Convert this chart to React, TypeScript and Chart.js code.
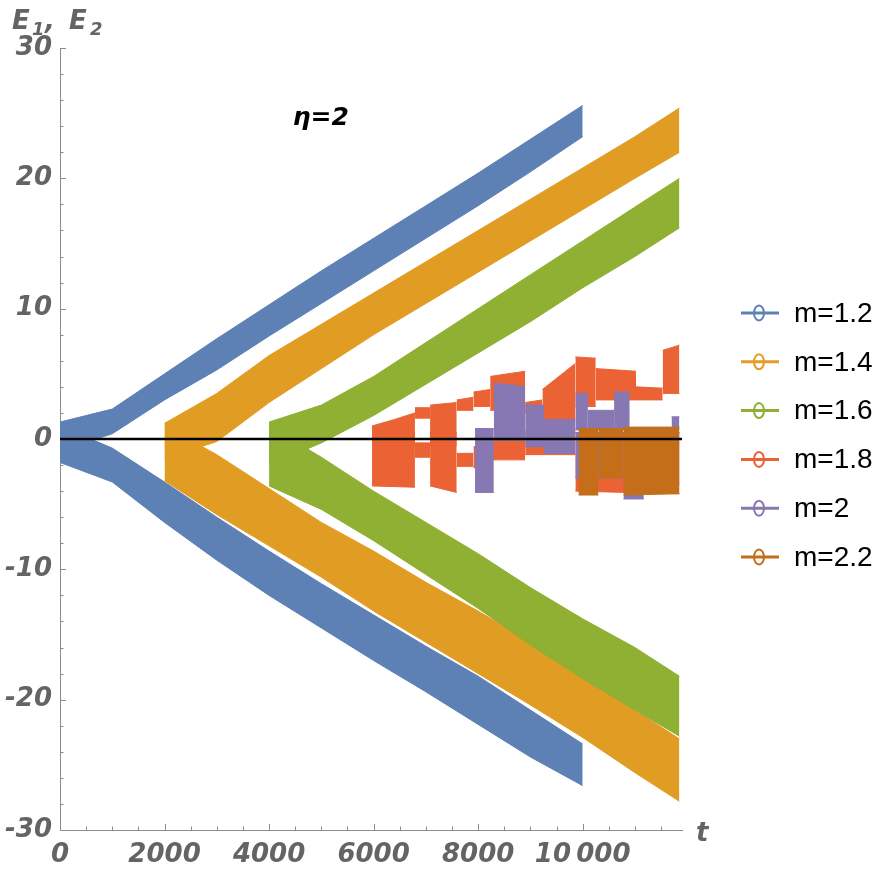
import { useEffect, useRef } from 'react';
import { Chart, registerables } from 'chart.js';

Chart.register(...registerables);

const seriesLabels = ['m=1.2', 'm=1.4', 'm=1.6', 'm=1.8', 'm=2', 'm=2.2'];
const seriesColors = ['#5E81B5', '#E19C24', '#8FB032', '#EB6235', '#8778B3', '#C56E1A'];

// m=1.2 : two arms growing out of t=0
const m12T = [0, 1000, 2000, 3000, 4000, 5000, 6000, 7000, 8000, 9000, 10000];
const m12UpHi = [1.3, 2.3, 5.0, 7.7, 10.3, 12.9, 15.4, 17.9, 20.4, 23.0, 25.6];
const m12UpLo = [-0.9, 0.4, 3.0, 5.3, 7.9, 10.4, 12.9, 15.4, 17.9, 20.5, 23.2];
const m12DnHi = [1.0, -0.7, -3.3, -6.0, -8.6, -11.1, -13.5, -15.9, -18.2, -20.8, -23.4];
const m12DnLo = [-1.8, -3.3, -6.4, -9.3, -12.0, -14.5, -17.0, -19.4, -21.9, -24.4, -26.6];

// m=1.4 : starts at t=2000
const m14T = [2000, 3000, 4000, 5000, 6000, 7000, 8000, 9000, 10000, 11000, 11850];
const m14UpHi = [1.2, 3.5, 6.4, 8.8, 11.2, 13.6, 16.0, 18.4, 20.8, 23.2, 25.4];
const m14UpLo = [-1.5, -0.2, 2.8, 5.4, 8.0, 10.4, 12.8, 15.2, 17.6, 20.0, 22.0];
const m14DnHi = [1.0, -1.2, -3.8, -6.4, -8.6, -11.0, -13.2, -15.6, -18.2, -20.8, -23.0];
const m14DnLo = [-3.2, -5.8, -8.2, -10.6, -13.2, -15.6, -18.0, -20.4, -22.9, -25.6, -27.8];

// m=1.6 : starts at t=4000
const m16T = [4000, 5000, 6000, 7000, 8000, 9000, 10000, 11000, 11850];
const m16UpHi = [1.3, 2.6, 4.8, 7.4, 10.0, 12.6, 15.2, 17.8, 20.0];
const m16UpLo = [-2.0, -0.3, 1.8, 4.2, 6.6, 9.0, 11.6, 14.0, 16.2];
const m16DnHi = [1.0, -1.4, -4.0, -6.4, -8.8, -11.4, -13.8, -16.0, -18.2];
const m16DnLo = [-3.6, -5.4, -7.8, -10.4, -13.0, -15.8, -18.4, -20.8, -22.8];

// m=1.8 : stepwise, upper and lower branch (repeated t = a jump)
const m18UpT = [5970, 6400, 6790, 6790, 7080, 7080, 7590, 7590, 7910, 7910, 8230, 8230, 8900, 8900, 9230, 9230, 9860, 9860, 10250, 10250, 11020, 11020, 11530, 11530, 11850];
const m18UpHi = [1.0, 1.5, 2.0, 2.4, 2.4, 2.6, 2.8, 3.0, 3.2, 3.6, 3.8, 4.8, 5.2, 2.8, 3.0, 3.8, 5.8, 6.3, 6.2, 5.4, 5.2, 4.0, 3.9, 6.8, 7.2];
const m18UpLo = [-0.5, -0.5, -0.5, 1.6, 1.6, -0.5, -0.5, 2.2, 2.2, 2.5, 2.5, 2.2, 2.2, 2.0, 2.0, 0.8, 0.8, 2.5, 2.5, 3.0, 3.0, 3.0, 3.0, 3.5, 3.5];
const m18DnT = [5970, 6790, 6790, 7080, 7080, 7590, 7590, 7910, 7910, 8230, 8230, 8900, 8900, 9860, 9860, 11850];
const m18DnHi = [0.5, 0.5, -0.3, -0.3, 0.5, 0.5, -1.1, -1.1, -0.6, -0.6, -0.1, -0.1, 0.6, 0.6, 0.5, 0.5];
const m18DnLo = [-3.6, -3.7, -1.4, -1.4, -3.6, -4.1, -2.1, -2.1, -2.2, -2.2, -1.6, -1.6, -1.2, -1.2, -4.0, -4.2];

// m=2
const m20UpT = [7940, 8300, 8300, 8900, 8900, 9260, 9260, 9860, 9860, 10100, 10100, 10600, 10600, 10900, 10900, 11700, 11700, 11850];
const m20UpHi = [0.8, 0.8, 4.3, 4.0, 2.6, 2.6, 1.5, 1.5, 3.5, 3.5, 2.2, 2.2, 3.6, 3.6, 0.9, 0.9, 1.7, 1.7];
const m20UpLo = [-4.1, -4.1, -0.1, -0.1, -0.6, -0.6, -1.1, -1.1, 0.7, 0.7, 0.7, 0.7, 0.7, 0.7, 0.4, 0.4, 0.7, 0.7];
const m20DnT = [9860, 10780, 10780, 11170, 11170, 11850];
const m20DnHi = [0.5, 0.5, 0.5, 0.5, 0.5, 0.5];
const m20DnLo = [-3.0, -3.0, -4.6, -4.6, -3.5, -3.5];

// m=2.2
const m22T = [9920, 10300, 10300, 10780, 10780, 11850];
const m22Hi = [0.8, 0.8, 0.8, 0.8, 0.9, 0.9];
const m22Lo = [-4.3, -4.3, -3.0, -3.0, -4.3, -4.2];

const zeroT = [0, 11900];
const zeroE = [0, 0];

const xTicks = [0, 2000, 4000, 6000, 8000, 10000];
const yTicks = [-30, -20, -10, 0, 10, 20, 30];
const xMinorStep = 500;
const yMinorStep = 2;

const bands = [
  { s: 0, t: m12T, hi: m12UpHi, lo: m12UpLo },
  { s: 0, t: m12T, hi: m12DnHi, lo: m12DnLo },
  { s: 1, t: m14T, hi: m14UpHi, lo: m14UpLo },
  { s: 1, t: m14T, hi: m14DnHi, lo: m14DnLo },
  { s: 2, t: m16T, hi: m16UpHi, lo: m16UpLo },
  { s: 2, t: m16T, hi: m16DnHi, lo: m16DnLo },
  { s: 3, t: m18UpT, hi: m18UpHi, lo: m18UpLo },
  { s: 3, t: m18DnT, hi: m18DnHi, lo: m18DnLo },
  { s: 4, t: m20UpT, hi: m20UpHi, lo: m20UpLo },
  { s: 4, t: m20DnT, hi: m20DnHi, lo: m20DnLo },
  { s: 5, t: m22T, hi: m22Hi, lo: m22Lo },
];

const GRAY = '#646464';
const AXIS = '#8c8c8c';
const TICK_FONT = { family: 'DejaVu Sans', size: 26, weight: 'bold' as const, style: 'italic' as const };

// split a band at its jumps so that every piece has strictly increasing t
function pieces(t: number[], hi: number[], lo: number[]) {
  const out: { t: number[]; hi: number[]; lo: number[] }[] = [];
  let cur = { t: [t[0]], hi: [hi[0]], lo: [lo[0]] };
  for (let k = 1; k < t.length; k++) {
    if (t[k] === t[k - 1]) {
      out.push(cur);
      cur = { t: [t[k]], hi: [hi[k]], lo: [lo[k]] };
    } else {
      cur.t.push(t[k]);
      cur.hi.push(hi[k]);
      cur.lo.push(lo[k]);
    }
  }
  out.push(cur);
  return out.filter((p) => p.t.length > 1);
}

const decorPlugin = {
  id: 'decor',
  beforeDatasetsDraw(chart: any) {
    const { ctx, scales } = chart;
    const x = scales.x;
    const y = scales.y;
    ctx.save();
    ctx.strokeStyle = AXIS;
    ctx.lineWidth = 1;
    ctx.beginPath();
    for (let v = y.min; v <= y.max; v += yMinorStep) {
      const py = Math.round(y.getPixelForValue(v)) + 0.5;
      const len = yTicks.includes(v) ? 6 : 3.5;
      ctx.moveTo(x.left, py);
      ctx.lineTo(x.left + len, py);
    }
    for (let t = 0; t <= x.max; t += xMinorStep) {
      const px = Math.round(x.getPixelForValue(t)) + 0.5;
      const len = xTicks.includes(t) ? 6 : 3.5;
      ctx.moveTo(px, y.bottom);
      ctx.lineTo(px, y.bottom - len);
    }
    ctx.stroke();
    ctx.restore();
  },
  afterDraw(chart: any) {
    const { ctx, scales } = chart;
    const x = scales.x;
    const y = scales.y;
    ctx.save();

    // axis labels
    ctx.fillStyle = GRAY;
    ctx.textBaseline = 'alphabetic';
    ctx.textAlign = 'left';
    const big = 'italic bold 26px "DejaVu Sans"';
    const sub = 'italic bold 18px "DejaVu Sans"';
    ctx.font = big;
    ctx.fillText('E', 12, 29);
    ctx.font = sub;
    ctx.fillText('1', 32, 35);
    ctx.font = big;
    ctx.fillText(',', 45, 29);
    ctx.fillText('E', 69, 29);
    ctx.font = sub;
    ctx.fillText('2', 90, 35);
    ctx.font = big;
    ctx.fillText('t', x.right + 14, y.bottom + 11);

    // eta annotation
    ctx.fillStyle = '#000';
    ctx.font = 'italic bold 25px "DejaVu Sans"';
    ctx.textAlign = 'center';
    ctx.textBaseline = 'middle';
    ctx.fillText('η=2', x.getPixelForValue(4990), y.getPixelForValue(24.6));

    // legend
    ctx.textAlign = 'left';
    ctx.font = '28px "Liberation Sans"';
    seriesLabels.forEach((label, i) => {
      const cy = 313 + i * 48.8;
      const c = seriesColors[i];
      ctx.strokeStyle = c;
      ctx.lineWidth = 3;
      ctx.beginPath();
      ctx.moveTo(741, cy);
      ctx.lineTo(779, cy);
      ctx.stroke();
      ctx.lineWidth = 2;
      ctx.beginPath();
      ctx.ellipse(759, cy, 5, 7.5, 0, 0, Math.PI * 2);
      ctx.stroke();
      ctx.fillStyle = '#000';
      ctx.fillText(label, 794, cy + 1);
    });
    ctx.restore();
  },
};

export default function App() {
  const chartRef = useRef<HTMLCanvasElement>(null);
  const chartInstance = useRef<Chart | null>(null);

  useEffect(() => {
    document.body.style.margin = '0';
    document.body.style.overflow = 'hidden';
    if (!chartRef.current) return;
    if (chartInstance.current) chartInstance.current.destroy();

    const datasets: any[] = [];
    bands.forEach((b) => {
      const color = seriesColors[b.s];
      const common = {
        label: seriesLabels[b.s],
        borderColor: color,
        backgroundColor: color,
        borderWidth: 1,
        pointRadius: 0,
        pointHitRadius: 0,
        order: 10 - b.s,
      };
      pieces(b.t, b.hi, b.lo).forEach((p) => {
        datasets.push({
          ...common,
          data: p.t.map((t, k) => ({ x: t, y: p.hi[k] })),
          fill: '+1',
        });
        datasets.push({
          ...common,
          data: p.t.map((t, k) => ({ x: t, y: p.lo[k] })),
          fill: false,
        });
      });
    });
    datasets.push({
      label: 'zero',
      data: zeroT.map((t, k) => ({ x: t, y: zeroE[k] })),
      borderColor: '#000',
      borderWidth: 2.5,
      pointRadius: 0,
      fill: false,
      order: 0,
    });

    chartInstance.current = new Chart(chartRef.current, {
      type: 'line',
      data: { datasets },
      options: {
        animation: false,
        responsive: true,
        maintainAspectRatio: false,
        events: [],
        layout: { padding: { top: 48, right: 207, left: 0, bottom: 0 } },
        plugins: {
          legend: { display: false },
          tooltip: { enabled: false },
        },
        scales: {
          x: {
            type: 'linear',
            min: 0,
            max: 11900,
            grid: { display: false, drawTicks: false },
            border: { display: true, color: AXIS, width: 1 },
            afterBuildTicks: (s: any) => {
              s.ticks = xTicks.map((v) => ({ value: v }));
            },
            afterFit: (s: any) => {
              s.height = 49;
            },
            ticks: {
              autoSkip: false,
              maxRotation: 0,
              padding: 10,
              color: GRAY,
              font: TICK_FONT,
              callback: (v: any) => (v === 10000 ? '10\u2009000' : String(v)),
            },
          },
          y: {
            type: 'linear',
            min: -30,
            max: 30,
            grid: { display: false, drawTicks: false },
            border: { display: true, color: AXIS, width: 1 },
            afterBuildTicks: (s: any) => {
              s.ticks = yTicks.map((v) => ({ value: v }));
            },
            afterFit: (s: any) => {
              s.width = 60;
            },
            ticks: {
              padding: 8,
              color: GRAY,
              font: TICK_FONT,
              callback: (v: any) => String(v),
            },
          },
        },
      },
      plugins: [decorPlugin],
    });

    return () => {
      if (chartInstance.current) {
        chartInstance.current.destroy();
        chartInstance.current = null;
      }
    };
  }, []);

  return (
    <div style={{ position: 'relative', width: 889, height: 879 }}>
      <canvas ref={chartRef}></canvas>
    </div>
  );
}
